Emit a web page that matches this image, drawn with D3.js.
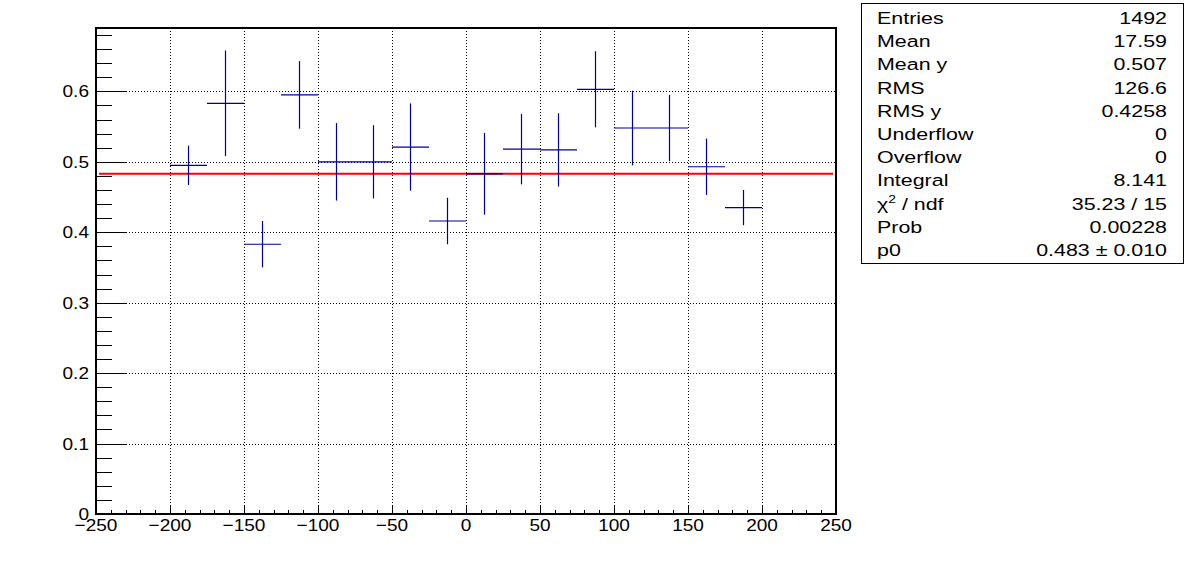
<!DOCTYPE html>
<html>
<head>
<meta charset="utf-8">
<script src="https://cdn.jsdelivr.net/npm/d3@7"></script>
<style>
  html, body { margin: 0; padding: 0; background: #fff; }
  svg { display: block; font-family: "Liberation Sans", Arial, Helvetica, sans-serif; }
</style>
</head>
<body>
<svg id="chart" width="1196" height="572"></svg>
<script>
// ---- data ----
const binLow    = [-200, -175, -150, -125, -100, -75, -50, -25, 0, 25, 50, 75, 100, 125, 150, 175];
const binWidth  = 25;
const values    = [0.495, 0.583, 0.383, 0.595, 0.500, 0.500, 0.521, 0.416, 0.483, 0.518, 0.517, 0.603, 0.548, 0.548, 0.493, 0.435];
const errors    = [0.028, 0.075, 0.033, 0.048, 0.055, 0.052, 0.062, 0.033, 0.058, 0.050, 0.052, 0.054, 0.053, 0.047, 0.040, 0.025];
const fitValue  = 0.483;
const xTicks    = [-250, -200, -150, -100, -50, 0, 50, 100, 150, 200, 250];
const yTicks    = [0, 0.1, 0.2, 0.3, 0.4, 0.5, 0.6];
const statLabels = ["Entries", "Mean", "Mean y", "RMS", "RMS y", "Underflow", "Overflow", "Integral", "χ2 / ndf", "Prob", "p0"];
const statValues = ["1492", "17.59", "0.507", "126.6", "0.4258", "0", "0", "8.141", "35.23 / 15", "0.00228", "0.483 ± 0.010"];

// ---- layout ----
const svg = d3.select("#chart");
const L = 96, R = 836, T = 28, B = 514;
const x = d3.scaleLinear().domain([-250, 250]).range([L, R]);
const y = d3.scaleLinear().domain([0, 0.69]).range([B, T]);
const SX = 1.12;  // horizontal stretch of tick label glyphs
const SXS = 1.26; // horizontal stretch of stats box glyphs

// grid
const grid = svg.append("g").attr("stroke", "#000").attr("stroke-width", 1).attr("stroke-dasharray", "1,2");
grid.selectAll("line.gx").data(xTicks.slice(1, -1)).enter().append("line")
  .attr("x1", d => Math.round(x(d)) + 0.5).attr("x2", d => Math.round(x(d)) + 0.5)
  .attr("y1", T).attr("y2", B);
grid.selectAll("line.gy").data(yTicks.slice(1)).enter().append("line")
  .attr("x1", L).attr("x2", R)
  .attr("y1", d => Math.round(y(d)) + 0.5).attr("y2", d => Math.round(y(d)) + 0.5);

// y axis ticks (inside, ROOT style)
const yMinor = d3.range(0, 0.69, 0.02);
svg.append("g").selectAll("line").data(yMinor).enter().append("line")
  .attr("x1", L).attr("x2", (d, i) => L + (i % 5 === 0 ? 31 : 16))
  .attr("y1", d => Math.round(y(d)) + 0.5).attr("y2", d => Math.round(y(d)) + 0.5)
  .attr("stroke", "#000").attr("stroke-width", 1);

// x axis ticks (inside, upward)
const xMinor = d3.range(-250, 251, 10);
svg.append("g").selectAll("line").data(xMinor).enter().append("line")
  .attr("x1", d => Math.round(x(d)) + 0.5).attr("x2", d => Math.round(x(d)) + 0.5)
  .attr("y1", B).attr("y2", d => B - (d % 50 === 0 ? 8 : 4))
  .attr("stroke", "#000").attr("stroke-width", 1);

// tick labels
svg.append("g").selectAll("text").data(yTicks).enter().append("text")
  .attr("transform", d => `translate(89,${y(d) + 6}) scale(${SX},1)`)
  .attr("text-anchor", "end").attr("font-size", 17).attr("fill", "#000")
  .text(d => d === 0 ? "0" : d3.format(".1f")(d));
svg.append("g").selectAll("text").data(xTicks).enter().append("text")
  .attr("transform", d => `translate(${x(d)},531) scale(${SX},1)`)
  .attr("text-anchor", "middle").attr("font-size", 17).attr("fill", "#000")
  .text(d => d < 0 ? "\u2212" + Math.abs(d) : String(d));

// fit line
svg.append("line")
  .attr("x1", x(-248)).attr("x2", x(248))
  .attr("y1", y(fitValue)).attr("y2", y(fitValue))
  .attr("stroke", "#ff0000").attr("stroke-width", 2);

// data error bars
const pts = svg.append("g").attr("stroke", "#000099").attr("stroke-width", 1.2);
binLow.forEach((lo, i) => {
  const xc = x(lo + binWidth / 2);
  pts.append("line").attr("x1", x(lo)).attr("x2", x(lo + binWidth))
    .attr("y1", y(values[i])).attr("y2", y(values[i]));
  pts.append("line").attr("x1", xc).attr("x2", xc)
    .attr("y1", y(values[i] - errors[i])).attr("y2", y(values[i] + errors[i]));
});

// frame
svg.append("rect").attr("x", L).attr("y", T).attr("width", R - L).attr("height", B - T)
  .attr("fill", "none").attr("stroke", "#000").attr("stroke-width", 2);

// stats box
const sb = svg.append("g");
sb.append("rect").attr("x", 861.5).attr("y", 3.5).attr("width", 322).attr("height", 260)
  .attr("fill", "#fff").attr("stroke", "#000").attr("stroke-width", 1);
statLabels.forEach((lab, i) => {
  const yy = 24 + i * 23.2;
  const t = sb.append("text").attr("transform", `translate(877,${yy}) scale(${SXS},1)`)
    .attr("font-size", 17).attr("fill", "#000");
  if (lab.startsWith("χ2")) {
    t.append("tspan").text("χ");
    t.append("tspan").attr("font-size", 11).attr("dy", -7).text("2");
    t.append("tspan").attr("dy", 7).text(" / ndf");
  } else {
    t.text(lab);
  }
  sb.append("text").attr("transform", `translate(1167,${yy}) scale(${SXS},1)`)
    .attr("text-anchor", "end")
    .attr("font-size", 17).attr("fill", "#000").text(statValues[i]);
});
</script>
</body>
</html>
